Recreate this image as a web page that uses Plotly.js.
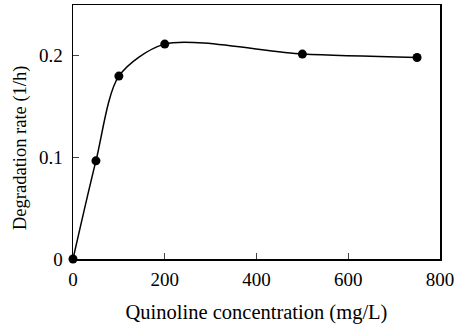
<!DOCTYPE html>
<html><head><meta charset="utf-8">
<script src="https://cdn.plot.ly/plotly-3.0.1.min.js"></script>
<style>html,body{margin:0;padding:0;background:#fff}</style>
</head><body>
<div id="chart" style="width:455px;height:329px"></div>
<script>
const concentration = [0, 50, 100, 200, 500, 750];
const degradationRate = [0, 0.0966, 0.180, 0.2115, 0.2017, 0.1983];
const xTicks = [0, 200, 400, 600, 800];
const yTicks = [0, 0.1, 0.2];
const yTickLabels = ['0', '0.1', '0.2'];

const font = {family: '"Liberation Serif", "Times New Roman", serif', color: '#000'};

Plotly.newPlot('chart', [{
  x: concentration, y: degradationRate,
  mode: 'lines+markers', type: 'scatter',
  line: {shape: 'spline', smoothing: 0.8, color: '#000', width: 1.5},
  marker: {size: 9, color: '#000'},
  cliponaxis: false
}], {
  width: 455, height: 329,
  margin: {l: 73, r: 15, t: 5, b: 70},
  paper_bgcolor: '#fff', plot_bgcolor: '#fff',
  showlegend: false,
  font: Object.assign({size: 18}, font),
  xaxis: {
    range: [0, 800], tickvals: xTicks, ticks: 'inside', ticklen: 6, tickwidth: 1.3,
    showline: true, linewidth: 1.5, linecolor: '#000', mirror: true,
    showgrid: false, zeroline: false, ticklabelstandoff: 3,
    tickfont: Object.assign({size: 19}, font),
    title: {text: 'Quinoline concentration (mg/L)', font: Object.assign({size: 20.5}, font), standoff: 15}
  },
  yaxis: {
    range: [0, 0.25], tickvals: yTicks, ticktext: yTickLabels, ticks: 'inside', ticklen: 6, tickwidth: 1.3,
    showline: true, linewidth: 1.5, linecolor: '#000', mirror: true,
    showgrid: false, zeroline: false, ticklabelstandoff: 5,
    tickfont: Object.assign({size: 19}, font)
  },
  annotations: [{
    text: 'Degradation rate (1/h)', textangle: -90,
    xref: 'paper', yref: 'paper', x: -0.143, y: 0.435,
    xanchor: 'center', yanchor: 'middle', showarrow: false,
    font: Object.assign({size: 18.5}, font)
  }]
}, {displayModeBar: false, staticPlot: true});
</script>
</body></html>
